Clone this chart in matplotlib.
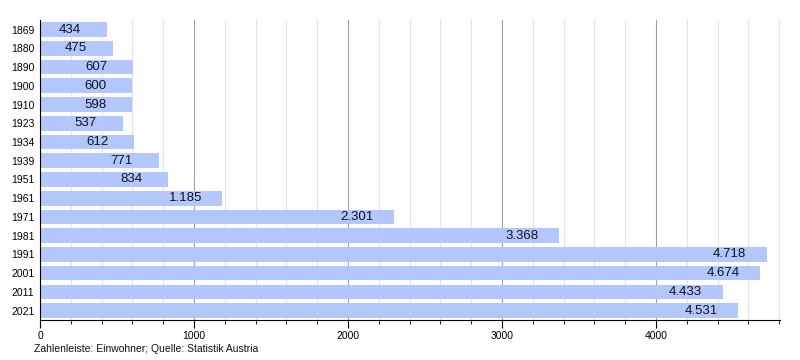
import matplotlib
matplotlib.use('Agg')
import matplotlib.pyplot as plt
from matplotlib.ticker import MultipleLocator

plt.rcParams['font.family'] = ['Liberation Sans', 'DejaVu Sans']

years = ['1869', '1880', '1890', '1900', '1910', '1923', '1934', '1939',
         '1951', '1961', '1971', '1981', '1991', '2001', '2011', '2021']
population = [434, 475, 607, 600, 598, 537, 612, 771,
              834, 1185, 2301, 3368, 4718, 4674, 4433, 4531]
labels = ['434', '475', '607', '600', '598', '537', '612', '771',
          '834', '1.185', '2.301', '3.368', '4.718', '4.674', '4.433', '4.531']

fig = plt.figure(figsize=(8, 3.6), dpi=100)
ax = fig.add_axes([0.05, 0.111, 0.925, 0.833])

ypos = list(range(len(years)))
ax.barh(ypos, population, height=0.78, color='#b3c7fc', zorder=2)
for y, v, lab in zip(ypos, population, labels):
    ax.text(v - 240, y, lab, ha='center', va='center', fontsize=9.5,
            color='#111122', zorder=3)

ax.set_ylim(len(years) - 0.5, -0.5)
ax.set_yticks(ypos)
ax.set_yticklabels(years, fontsize=7.5)
ax.tick_params(axis='y', length=0, pad=4)

ax.set_xlim(0, 4805)
ax.xaxis.set_major_locator(MultipleLocator(1000))
ax.xaxis.set_minor_locator(MultipleLocator(200))
ax.tick_params(axis='x', which='major', length=6, labelsize=7.5, pad=2)
ax.tick_params(axis='x', which='minor', length=3)
ax.grid(axis='x', which='major', color='#a0a0a0', linewidth=0.8, zorder=0)
ax.grid(axis='x', which='minor', color='#e2e2e2', linewidth=0.8, zorder=0)

for s in ['top', 'right']:
    ax.spines[s].set_visible(False)
ax.spines['left'].set_color('black')
ax.spines['bottom'].set_color('black')

fig.text(0.043, 0.03, 'Zahlenleiste: Einwohner; Quelle: Statistik Austria',
         fontsize=7.5, color='#111111', va='center')

fig.savefig('out.png', dpi=100)
